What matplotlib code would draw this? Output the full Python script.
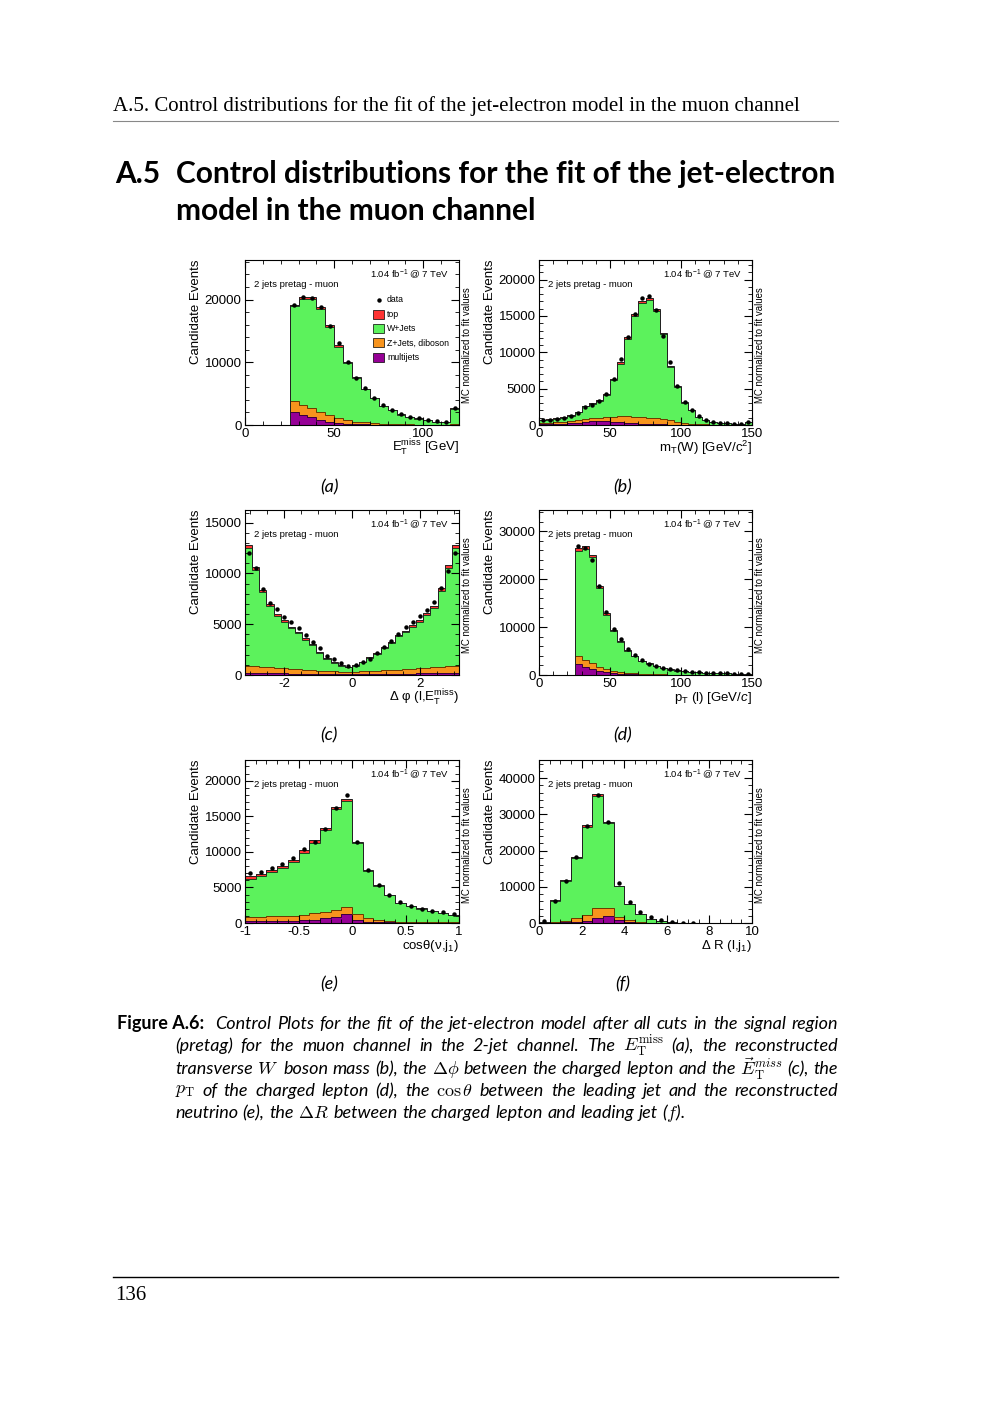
import numpy as np
import matplotlib
matplotlib.use('Agg')
import matplotlib.pyplot as plt
from matplotlib.patches import Rectangle
from matplotlib.lines import Line2D
from matplotlib.ticker import MultipleLocator, FuncFormatter

plt.rcParams['font.family'] = ['Liberation Sans', 'DejaVu Sans']
plt.rcParams['mathtext.fontset'] = 'custom'
plt.rcParams['mathtext.rm'] = 'Liberation Sans'
plt.rcParams['mathtext.it'] = 'Liberation Sans:italic'
plt.rcParams['mathtext.bf'] = 'Liberation Sans:bold'

# ---- (a) missing transverse energy, 5 GeV bins from 25 to 120
a_edges = np.arange(25, 121, 5)
a_data = [19150, 20400, 20250, 18800, 15850, 13000, 10050, 7550, 5850, 4350,
          3150, 2350, 1750, 1300, 1050, 800, 600, 500, 2700]
a_mj = [2100, 1600, 1200, 800, 500, 330, 220, 150, 100, 70, 50, 40, 30, 20, 15, 10, 10, 10, 40]
a_zj = [1700, 1650, 1550, 1300, 1100, 820, 580, 400, 300, 230, 170, 120, 90, 70, 55, 40, 30, 20, 110]
a_wj = [15100, 16800, 17300, 16370, 14020, 11320, 9120, 7010, 5300, 3970,
        2820, 2190, 1540, 1210, 965, 730, 475, 378, 2440]
a_top = [300, 350, 350, 330, 280, 230, 180, 140, 100, 80, 60, 50, 40, 30, 25, 20, 15, 12, 60]

# ---- (b) transverse W mass, 5 GeV bins from 0 to 150
b_edges = np.arange(0, 151, 5)
b_data = [740, 650, 830, 970, 1200, 1660, 2440, 2760, 3320, 4290, 6310, 9080, 12120, 15300, 17500,
          17700, 15760, 12300, 8620, 5350, 3230, 2100, 1200, 680, 450, 300, 220, 170, 170, 480]
b_mj = [80, 100, 130, 170, 230, 330, 450, 520, 560, 540, 480, 400, 320, 250, 190,
        150, 110, 80, 60, 40, 25, 15, 10, 5, 5, 5, 3, 3, 3, 10]
b_zj = [150, 180, 220, 250, 270, 320, 380, 400, 440, 510, 670, 800, 880, 900, 890,
        850, 790, 700, 590, 440, 305, 185, 110, 75, 45, 35, 27, 17, 17, 40]
b_wj = [450, 475, 540, 605, 795, 1135, 1730, 2000, 2365, 3130, 5010, 7230, 10680, 13870, 15670,
        16200, 14740, 11690, 7270, 4730, 2740, 1810, 1005, 605, 400, 272, 194, 155, 155, 400]
b_top = [20, 25, 30, 35, 45, 55, 70, 80, 95, 110, 150, 190, 240, 280, 300,
         300, 260, 200, 140, 90, 60, 40, 25, 15, 10, 8, 6, 5, 5, 10]

# ---- (c) delta phi(lepton, MET), 30 bins from -pi to pi
c_edges = np.linspace(-np.pi, np.pi, 31)
c_data = [11970, 10560, 8460, 7110, 6460, 5740, 5250, 4590, 3930, 3280, 2620, 1900, 1540, 1210, 920,
          950, 1250, 1540, 2130, 2790, 3380, 4030, 4690, 5250, 5800, 6390, 7210, 8520, 10230, 12030]
c_mj = [200, 195, 185, 175, 165, 155, 145, 135, 125, 115, 105, 95, 85, 75, 70,
        70, 75, 85, 95, 105, 115, 125, 135, 145, 155, 165, 175, 185, 195, 200]
c_zj = [720, 685, 635, 585, 535, 495, 455, 425, 395, 365, 335, 305, 285, 265, 260,
        260, 275, 295, 325, 355, 385, 415, 445, 475, 505, 535, 575, 615, 665, 720]
c_wj = [11620, 9490, 7350, 6050, 5140, 4610, 4010, 3570, 2970, 2430, 1770, 1170, 825, 595, 450,
        575, 905, 1290, 1690, 2220, 2660, 3260, 3640, 4150, 4590, 5200, 5880, 7500, 9720, 11620]
c_top = [250, 220, 190, 170, 160, 150, 140, 130, 120, 110, 90, 70, 55, 45, 40,
         45, 55, 70, 90, 110, 120, 130, 140, 150, 160, 170, 190, 220, 240, 250]

# ---- (d) lepton pT, 5 GeV bins from 25 to 150
d_edges = np.arange(25, 151, 5)
d_data = [26940, 26390, 23960, 18610, 13190, 9580, 7430, 5420, 4100, 3130, 2360, 1940, 1530,
          1180, 970, 830, 690, 560, 490, 420, 350, 350, 280, 280, 280]
d_mj = [2200, 1700, 1250, 850, 550, 380, 260, 180, 120, 90, 70, 55, 45, 35, 30, 25, 20, 18, 15, 13, 12, 10, 10, 9, 9]
d_zj = [1800, 1400, 1150, 850, 650, 520, 390, 270, 210, 160, 120, 95, 75, 65, 50, 45, 40, 32, 30, 27, 23, 20, 18, 16, 16]
d_wj = [21900, 23200, 22150, 16480, 11380, 8250, 6260, 4610, 3560, 2670, 2145, 1700, 1340,
        1018, 844, 708, 572, 485, 422, 349, 305, 291, 264, 248, 238]
d_top = [500, 600, 550, 420, 320, 250, 190, 140, 110, 80, 65, 50, 40, 32, 26, 22, 18, 15, 13, 11, 10, 9, 8, 7, 7]

# ---- (e) cos theta(nu, leading jet), 20 bins from -1 to 1
e_edges = np.linspace(-1, 1, 21)
e_data = [6960, 7200, 7660, 8220, 9070, 10330, 11400, 13270, 16170, 18040,
          11400, 7430, 5330, 3930, 2900, 2430, 1960, 1680, 1500, 1260]
e_mj = [330, 330, 330, 340, 350, 360, 420, 650, 800, 1260, 420, 190, 120, 100, 90, 80, 75, 70, 65, 60]
e_zj = [520, 550, 590, 620, 670, 760, 940, 940, 1020, 1030, 840, 460, 300, 230, 110, 110, 105, 100, 95, 90]
e_wj = [5380, 5710, 6230, 6750, 7540, 8740, 9900, 11420, 14150, 14830,
        9940, 6660, 4830, 3540, 2605, 2200, 1845, 1530, 1262, 945]
e_top = [370, 360, 350, 340, 340, 340, 340, 340, 330, 330, 200, 120, 80, 60, 45, 40, 35, 30, 28, 25]

# ---- (f) delta R(lepton, leading jet), 20 bins from 0 to 10
f_edges = np.linspace(0, 10, 21)
f_data = [550, 6150, 11470, 18170, 26880, 35300, 27800, 11010, 5690, 3030,
          1610, 730, 180, 100, 50, 0, 0, 0, 0, 0]
f_mj = [10, 90, 180, 280, 640, 1470, 1930, 920, 370, 90, 30, 10, 5, 3, 2, 0, 0, 0, 0, 0]
f_zj = [30, 280, 460, 1100, 1650, 2660, 2200, 730, 360, 190, 70, 30, 10, 7, 3, 0, 0, 0, 0, 0]
f_wj = [355, 5750, 11070, 16620, 24320, 30870, 23430, 8430, 4390, 2140,
        1060, 405, 159, 87, 43, 30, 20, 10, 10, 10]
f_top = [5, 120, 220, 350, 450, 500, 420, 200, 110, 60, 30, 15, 6, 3, 2, 0, 0, 0, 0, 0]

legend_labels = ['data', 'top', 'W+Jets', 'Z+Jets, diboson', 'multijets']

W, H = 1000, 1414
fig = plt.figure(figsize=(10, 14.14), dpi=100)

col_top = '#ff3333'
col_w = '#5cf25c'
col_z = '#f7941d'
col_mj = '#960096'


def fx(x):
    return x / W


def fy(y):
    return 1 - y / H


def panel(box, edges, data, mj, zj, wj, tp, xlim, ymax, xmaj, xmin, ymaj, ymin, xlabel):
    l, t, r, b = box
    ax = fig.add_axes([fx(l), fy(b), (r - l) / W, (b - t) / H])
    layers = np.cumsum([mj, zj, wj, tp], axis=0).astype(float)
    base = np.zeros(len(edges) - 1)
    for c, col in zip(layers, [col_mj, col_z, col_w, col_top]):
        ax.stairs(c, edges, baseline=base, fill=True, color=col, lw=0)
        base = c
    for c, ec in zip(layers, ['#3a003a', '#6a3a00', '#1f3f1f', '#222222']):
        ax.stairs(c, edges, baseline=0, color=ec, lw=0.7)
    centers = 0.5 * (edges[1:] + edges[:-1])
    data = np.asarray(data, float)
    keep = data > 0
    ax.plot(centers[keep], data[keep], 'o', color='k', ms=3.2, mew=0)
    ax.set_xlim(*xlim)
    ax.set_ylim(0, ymax)
    ax.xaxis.set_major_locator(MultipleLocator(xmaj))
    ax.xaxis.set_minor_locator(MultipleLocator(xmin))
    ax.yaxis.set_major_locator(MultipleLocator(ymaj))
    ax.yaxis.set_minor_locator(MultipleLocator(ymin))
    fmt = FuncFormatter(lambda v, p: '%g' % v)
    ax.xaxis.set_major_formatter(fmt)
    ax.yaxis.set_major_formatter(fmt)
    ax.tick_params(which='both', direction='in', top=True, right=True, labelsize=9.5, pad=2.5)
    ax.tick_params(which='major', length=6, width=0.8)
    ax.tick_params(which='minor', length=3, width=0.6)
    for s in ax.spines.values():
        s.set_linewidth(0.8)
    ax.text(0.04, 0.85, '2 jets pretag - muon', transform=ax.transAxes, fontsize=6.8, va='center')
    ax.text(0.955, 0.915, '1.04 fb$^{-1}$ @ 7 TeV', transform=ax.transAxes, fontsize=6.8,
            ha='right', va='center')
    fig.text(fx(r + 8), fy(t + 85), 'MC normalized to fit values', rotation=90, fontsize=6.9,
             ha='center', va='center')
    fig.text(fx(l - 49), fy(t), 'Candidate Events', rotation=90, fontsize=9.5, ha='center', va='top')
    fig.text(fx(r), fy(b + 23), xlabel, fontsize=9.5, ha='right', va='center')
    return ax


cols = [(245, 459), (539, 752)]
rows = [(260, 425), (510, 675), (760, 923)]

panel((cols[0][0], rows[0][0], cols[0][1], rows[0][1]), a_edges, a_data, a_mj, a_zj, a_wj, a_top,
      (0, 120), 26300, 50, 10, 10000, 2000, r'E$_{\mathrm{T}}^{\mathrm{miss}}$ [GeV]')
panel((cols[1][0], rows[0][0], cols[1][1], rows[0][1]), b_edges, b_data, b_mj, b_zj, b_wj, b_top,
      (0, 150), 22700, 50, 10, 5000, 1000, r'm$_{\mathrm{T}}$(W) [GeV/c$^{\mathrm{2}}$]')
panel((cols[0][0], rows[1][0], cols[0][1], rows[1][1]), c_edges, c_data, c_mj, c_zj, c_wj, c_top,
      (-np.pi, np.pi), 16250, 2, 0.5, 5000, 1000, r'Δ φ (l,E$_{\mathrm{T}}^{\mathrm{miss}}$)')
panel((cols[1][0], rows[1][0], cols[1][1], rows[1][1]), d_edges, d_data, d_mj, d_zj, d_wj, d_top,
      (0, 150), 34400, 50, 10, 10000, 2000, r'p$_{\mathrm{T}}$ (l) [GeV/$c$]')
panel((cols[0][0], rows[2][0], cols[0][1], rows[2][1]), e_edges, e_data, e_mj, e_zj, e_wj, e_top,
      (-1, 1), 22900, 0.5, 0.1, 5000, 1000, r'cosθ(ν,j$_{\mathrm{1}}$)')
panel((cols[1][0], rows[2][0], cols[1][1], rows[2][1]), f_edges, f_data, f_mj, f_zj, f_wj, f_top,
      (0, 10), 45000, 2, 0.5, 10000, 2000, r'Δ R (l,j$_{\mathrm{1}}$)')

# legend of panel (a)
leg_cols = [None, col_top, col_w, col_z, col_mj]
for i, (lab, col) in enumerate(zip(legend_labels, leg_cols)):
    y = 300 + i * 14.3
    if col is None:
        fig.add_artist(Line2D([fx(378.5)], [fy(y)], marker='o', ms=3.2, color='k', mew=0,
                              transform=fig.transFigure))
    else:
        fig.add_artist(Rectangle((fx(373), fy(y + 4.5)), 11 / W, 9 / H, transform=fig.transFigure,
                                 fc=col, ec='k', lw=0.5))
    fig.text(fx(387), fy(y), lab, fontsize=6.3, va='center')

# panel letters
for lab, (x, y) in zip('abcdef', [(329, 487), (623, 487), (329, 735), (623, 735), (329, 984), (623, 984)]):
    fig.text(fx(x), fy(y), '(%s)' % lab, fontsize=13, style='italic', family='Lato', ha='center', va='center')

# page header, section title and footer
fig.text(fx(113), fy(106), 'A.5. Control distributions for the fit of the jet-electron model in the muon channel',
         family='Liberation Serif', fontsize=15, va='center')
fig.add_artist(Line2D([fx(113), fx(838)], [fy(121), fy(121)], color='#888888', lw=0.8, transform=fig.transFigure))
fig.text(fx(115), fy(174), 'A.5', family='Lato', weight='bold', fontsize=21.5, va='center')
fig.text(fx(176), fy(174), 'Control distributions for the fit of the jet-electron', family='Lato',
         weight='bold', fontsize=21.5, va='center')
fig.text(fx(176), fy(211), 'model in the muon channel', family='Lato', weight='bold', fontsize=21.5, va='center')
fig.add_artist(Line2D([fx(113), fx(838)], [fy(1277), fy(1277)], color='k', lw=1.0, transform=fig.transFigure))
fig.text(fx(115), fy(1296), '136', family='Liberation Serif', fontsize=15, va='center')

# caption, justified line by line
renderer = fig.canvas.get_renderer()
cap_fs = 13


def caption_line(text, x0, x1, y, justify=True):
    words = text.split()
    ts = [fig.text(fx(x0), fy(y), w, family='Lato', style='italic', fontsize=cap_fs, va='center',
                   math_fontfamily='cm') for w in words]
    widths = [t.get_window_extent(renderer).width for t in ts]
    if justify:
        gap = (x1 - x0 - sum(widths)) / (len(ts) - 1)
    else:
        gap = 4.5
    x = x0
    for t, w in zip(ts, widths):
        t.set_x(fx(x))
        x += w + gap


fig.text(fx(117), fy(1024), 'Figure A.6:', family='Lato', weight='bold', fontsize=cap_fs, va='center')
caption_line('Control Plots for the fit of the jet-electron model after all cuts in the signal region',
             215, 838, 1024)
caption_line(r'(pretag) for the muon channel in the 2-jet channel. The $E_{\mathrm{T}}^{\mathrm{miss}}$ (a), the reconstructed',
             175, 838, 1046)
caption_line(r'transverse $W$ boson mass (b), the $\Delta\phi$ between the charged lepton and the $\vec{E}_{\mathrm{T}}^{miss}$ (c), the',
             175, 838, 1069)
caption_line(r'$p_{\mathrm{T}}$ of the charged lepton (d), the $\cos\theta$ between the leading jet and the reconstructed',
             175, 838, 1091)
caption_line(r'neutrino (e), the $\Delta{}R$ between the charged lepton and leading jet ($f$).',
             175, 838, 1113, justify=False)

fig.savefig('out.png', dpi=100)
